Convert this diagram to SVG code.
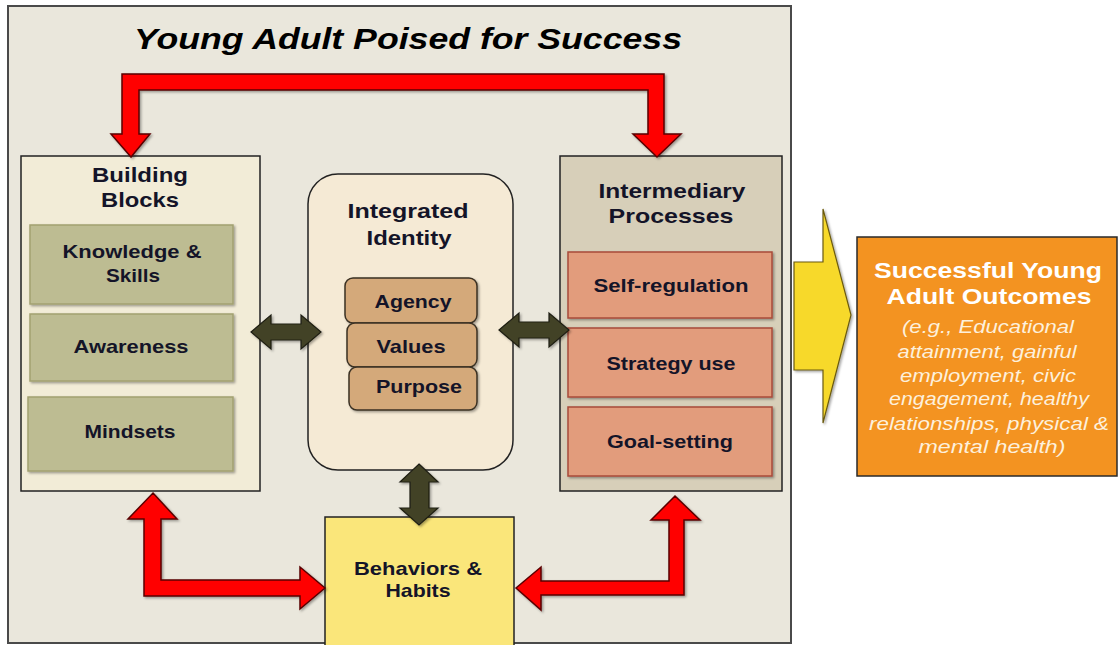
<svg xmlns="http://www.w3.org/2000/svg" width="1118" height="645" viewBox="0 0 1118 645">
<defs>
<filter id="sh" x="-10%" y="-10%" width="130%" height="130%">
<feDropShadow dx="1.5" dy="1.5" stdDeviation="1" flood-color="#000" flood-opacity="0.35"/>
</filter>
</defs>
<style>
.t{font-family:"Liberation Sans",Arial,sans-serif;font-weight:bold;fill:#141428;text-anchor:middle}
.h{font-size:21px}
.s{font-size:19px}
.title{font-family:"Liberation Sans",Arial,sans-serif;font-weight:bold;font-style:italic;font-size:29px;fill:#000;text-anchor:middle}
.w{font-family:"Liberation Sans",Arial,sans-serif;font-weight:bold;font-size:22px;fill:#fff;text-anchor:middle}
.wi{font-family:"Liberation Sans",Arial,sans-serif;font-style:italic;font-size:18px;fill:#fdf0dc;text-anchor:middle}
.olive{fill:#bdbc92;stroke:#a3a170;stroke-width:1.5}
.tan{fill:#d4a97a;stroke:#3a3024;stroke-width:1.5}
.salmon{fill:#e29c7b;stroke:#a84a3a;stroke-width:1.5}
.red{fill:#ff0000;stroke:#5a0000;stroke-width:1.5;stroke-linejoin:miter}
.dark{fill:#434228;stroke:#1e1e12;stroke-width:1.2}
</style>
<rect id="frame" x="8" y="6" width="783" height="637" fill="#eae7dc" stroke="#4a4a4a" stroke-width="2"/>
<text class="title" x="408" y="49" textLength="548" lengthAdjust="spacingAndGlyphs">Young Adult Poised for Success</text>

<g id="building-blocks">
<rect x="21" y="156" width="239" height="335" fill="#f2ecd7" stroke="#222" stroke-width="1.5"/>
<text class="t h" x="140" y="182" textLength="96" lengthAdjust="spacingAndGlyphs">Building</text>
<text class="t h" x="140" y="207" textLength="78" lengthAdjust="spacingAndGlyphs">Blocks</text>
<g id="knowledge-skills"><rect class="olive" x="30" y="225" width="203" height="79" filter="url(#sh)"/>
<text class="t s" x="132" y="258" textLength="139" lengthAdjust="spacingAndGlyphs">Knowledge &amp;</text>
<text class="t s" x="133" y="282" textLength="54" lengthAdjust="spacingAndGlyphs">Skills</text></g>
<g id="awareness"><rect class="olive" x="30" y="314" width="203" height="67" filter="url(#sh)"/>
<text class="t s" x="131" y="353" textLength="115" lengthAdjust="spacingAndGlyphs">Awareness</text></g>
<g id="mindsets"><rect class="olive" x="28" y="397" width="205" height="74" filter="url(#sh)"/>
<text class="t s" x="130" y="438" textLength="91" lengthAdjust="spacingAndGlyphs">Mindsets</text></g>
</g>

<g id="integrated-identity">
<rect x="308" y="174" width="205" height="296" rx="30" ry="30" fill="#f5ead5" stroke="#222" stroke-width="1.5"/>
<text class="t h" x="408" y="218" textLength="121" lengthAdjust="spacingAndGlyphs">Integrated</text>
<text class="t h" x="409" y="245" textLength="85" lengthAdjust="spacingAndGlyphs">Identity</text>
<g id="agency"><rect class="tan" x="345" y="278" width="132" height="45" rx="8" filter="url(#sh)"/>
<text class="t s" x="413" y="308" textLength="77" lengthAdjust="spacingAndGlyphs">Agency</text></g>
<g id="values"><rect class="tan" x="347" y="323" width="130" height="44" rx="8" filter="url(#sh)"/>
<text class="t s" x="411" y="353" textLength="69" lengthAdjust="spacingAndGlyphs">Values</text></g>
<g id="purpose"><rect class="tan" x="349" y="367" width="128" height="43" rx="8" filter="url(#sh)"/>
<text class="t s" x="419" y="393" textLength="86" lengthAdjust="spacingAndGlyphs">Purpose</text></g>
</g>

<g id="intermediary-processes">
<rect x="560" y="156" width="222" height="335" fill="#d7cfb9" stroke="#222" stroke-width="1.5"/>
<text class="t h" x="672" y="198" textLength="147" lengthAdjust="spacingAndGlyphs">Intermediary</text>
<text class="t h" x="671" y="223" textLength="125" lengthAdjust="spacingAndGlyphs">Processes</text>
<g id="self-regulation"><rect class="salmon" x="568" y="252" width="204" height="66" filter="url(#sh)"/>
<text class="t s" x="671" y="292" textLength="155" lengthAdjust="spacingAndGlyphs">Self-regulation</text></g>
<g id="strategy-use"><rect class="salmon" x="568" y="328" width="204" height="69" filter="url(#sh)"/>
<text class="t s" x="671" y="370" textLength="129" lengthAdjust="spacingAndGlyphs">Strategy use</text></g>
<g id="goal-setting"><rect class="salmon" x="568" y="407" width="204" height="69" filter="url(#sh)"/>
<text class="t s" x="670" y="448" textLength="126" lengthAdjust="spacingAndGlyphs">Goal-setting</text></g>
</g>

<g id="behaviors-habits">
<rect x="325" y="517" width="189" height="132" fill="#fae67a" stroke="#222" stroke-width="1.5"/>
<text class="t s" x="418" y="575" textLength="128" lengthAdjust="spacingAndGlyphs">Behaviors &amp;</text>
<text class="t s" x="418" y="597" textLength="65" lengthAdjust="spacingAndGlyphs">Habits</text>
</g>

<g id="outcomes">
<rect x="857" y="237" width="260" height="239" fill="#f39321" stroke="#2a2a2a" stroke-width="1.5"/>
<text class="w" x="988" y="278" textLength="228" lengthAdjust="spacingAndGlyphs">Successful Young</text>
<text class="w" x="989" y="304" textLength="205" lengthAdjust="spacingAndGlyphs">Adult Outcomes</text>
<text class="wi" x="988" y="333" textLength="172" lengthAdjust="spacingAndGlyphs">(e.g., Educational</text>
<text class="wi" x="987" y="358" textLength="179" lengthAdjust="spacingAndGlyphs">attainment, gainful</text>
<text class="wi" x="988" y="382" textLength="176" lengthAdjust="spacingAndGlyphs">employment, civic</text>
<text class="wi" x="989" y="405" textLength="200" lengthAdjust="spacingAndGlyphs">engagement, healthy</text>
<text class="wi" x="989" y="430" textLength="240" lengthAdjust="spacingAndGlyphs">relationships, physical &amp;</text>
<text class="wi" x="992" y="453" textLength="147" lengthAdjust="spacingAndGlyphs">mental health)</text>
</g>

<g id="connectors">
<path class="red" filter="url(#sh)" d="M131,157 L111,134 L122,134 L122,74 L664,74 L664,134 L681,134 L657,157 L633,134 L648,134 L648,90 L139,90 L139,134 L150,134 Z"/>
<path class="red" filter="url(#sh)" d="M153,493 L177,519 L161,519 L161,580 L300,580 L300,567 L325,588 L300,609 L300,596 L144,596 L144,519 L128,519 Z"/>
<path class="red" filter="url(#sh)" d="M675,496 L700,520 L684,520 L684,595 L541,595 L541,610 L516,588 L541,567 L541,581 L669,581 L669,520 L651,520 Z"/>
<path class="dark" filter="url(#sh)" d="M251,332 L271,315 L271,324 L301,324 L301,315 L321,332 L301,349 L301,340 L271,340 L271,349 Z"/>
<path class="dark" filter="url(#sh)" d="M499,330 L519,313 L519,322 L549,322 L549,313 L569,330 L549,347 L549,338 L519,338 L519,347 Z"/>
<path class="dark" filter="url(#sh)" d="M419,464 L438,482 L429,482 L429,508 L438,508 L419,525 L400,508 L410,508 L410,482 L400,482 Z"/>
<path fill="#f7d92c" stroke="#6b5a10" stroke-width="1.2" filter="url(#sh)" d="M794,262 L823,262 L823,209 L851,315 L823,423 L823,370 L794,370 Z"/>
</g>
</svg>
